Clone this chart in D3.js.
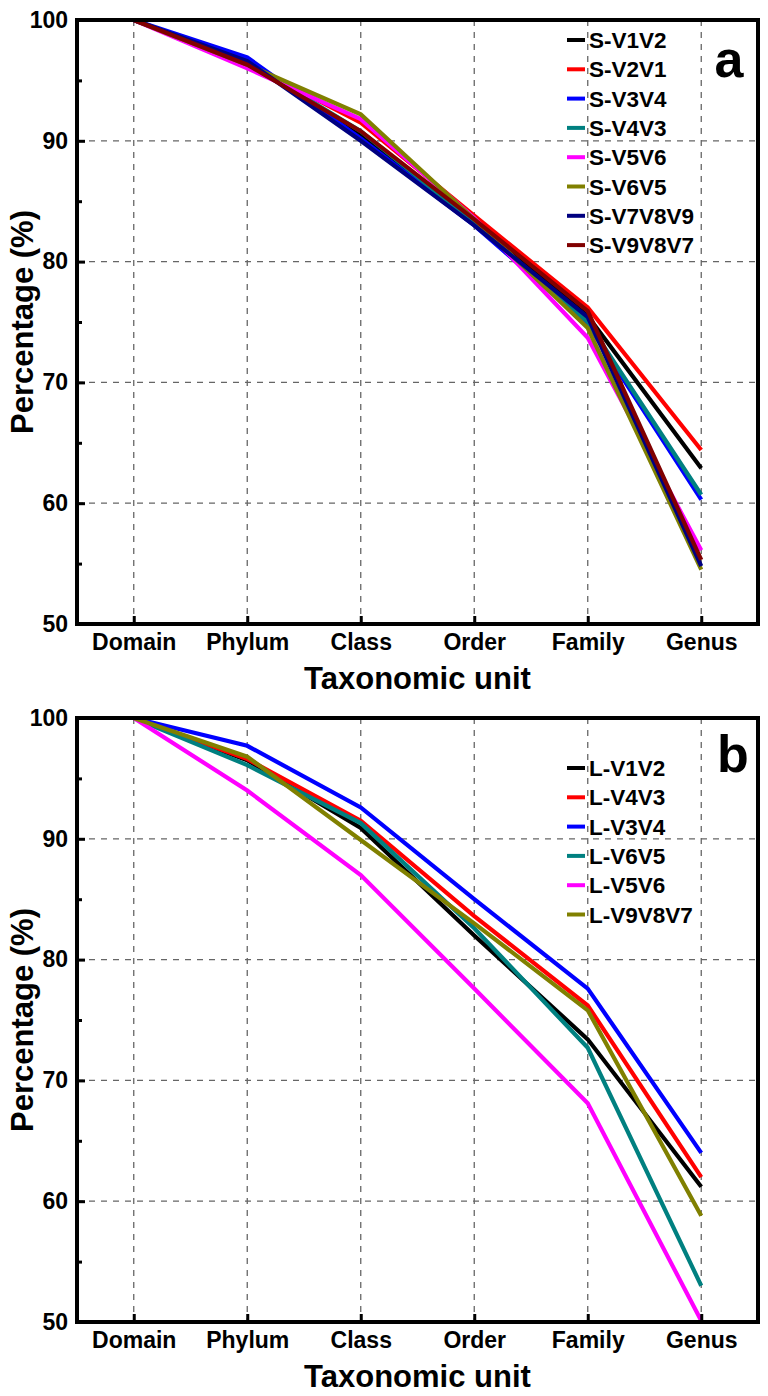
<!DOCTYPE html>
<html><head><meta charset="utf-8">
<script src="https://cdn.jsdelivr.net/npm/d3@7"></script>
<style>body{margin:0;background:#fff}svg{display:block}text{font-family:"Liberation Sans",Arial,sans-serif;font-weight:bold}</style>
</head><body>
<svg id="c" width="768" height="1396"></svg>
<script>
const categories = ["Domain","Phylum","Class","Order","Family","Genus"];
const yTicks = [50,60,70,80,90,100];

const seriesA = ["S-V1V2","S-V2V1","S-V3V4","S-V4V3","S-V5V6","S-V6V5","S-V7V8V9","S-V9V8V7"];
const colorsA = ["#000000","#ff0000","#0000ff","#008080","#ff00ff","#808000","#000080","#800000"];
const sV1V2    = [100, 96.5, 90.5, 83.3, 75.5, 62.9];
const sV2V1    = [100, 96.4, 91.5, 83.8, 76.2, 64.4];
const sV3V4    = [100, 96.9, 90.2, 83.0, 74.8, 60.3];
const sV4V3    = [100, 96.5, 90.8, 83.2, 75.0, 60.7];
const sV5V6    = [100, 96.0, 91.8, 83.6, 73.7, 56.1];
const sV6V5    = [100, 96.3, 92.2, 83.5, 74.5, 54.5];
const sV7V8V9  = [100, 96.6, 90.0, 83.0, 75.4, 54.8];
const sV9V8V7  = [100, 96.3, 90.8, 83.5, 75.9, 55.3];
const valuesA = [sV1V2, sV2V1, sV3V4, sV4V3, sV5V6, sV6V5, sV7V8V9, sV9V8V7];

const seriesB = ["L-V1V2","L-V4V3","L-V3V4","L-V6V5","L-V5V6","L-V9V8V7"];
const colorsB = ["#000000","#ff0000","#0000ff","#008080","#ff00ff","#808000"];
const lV1V2   = [100, 96.5, 90.9, 82.0, 73.4, 61.2];
const lV4V3   = [100, 96.6, 91.5, 83.6, 76.2, 62.0];
const lV3V4   = [100, 97.7, 92.6, 85.0, 77.6, 64.0];
const lV6V5   = [100, 96.1, 91.3, 82.6, 72.7, 53.0];
const lV5V6   = [100, 94.0, 87.0, 77.6, 68.1, 50.1];
const lV9V8V7 = [100, 96.8, 89.9, 83.0, 75.8, 58.8];
const valuesB = [lV1V2, lV4V3, lV3V4, lV6V5, lV5V6, lV9V8V7];

const svg = d3.select("#c");

function panel(top, bottom, names, colors, values, letter, legTop, letterBase, letterX){
  const L = 77, R = 758;
  const x = d3.scalePoint().domain(categories).range([L, R]).padding(0.5);
  const y = d3.scaleLinear().domain([50,100]).range([bottom, top]);
  const g = svg.append("g");
  // grid
  g.selectAll(".vg").data(categories).join("line")
    .attr("x1", d=>x(d)).attr("x2", d=>x(d)).attr("y1", top).attr("y2", bottom)
    .attr("stroke","#666").attr("stroke-width",1.3).attr("stroke-dasharray","6,6");
  g.selectAll(".hg").data(yTicks.filter(v=>v>50&&v<100)).join("line")
    .attr("x1", L).attr("x2", R).attr("y1", d=>y(d)).attr("y2", d=>y(d))
    .attr("stroke","#666").attr("stroke-width",1.3).attr("stroke-dasharray","6,6");
  // lines
  const line = d3.line().x((d,i)=>x(categories[i])).y(d=>y(d));
  values.forEach((v,i)=>{
    g.append("path").attr("d", line(v)).attr("fill","none")
      .attr("stroke", colors[i]).attr("stroke-width",4.2).attr("stroke-linejoin","miter");
  });
  // axes
  const yAxis = d3.axisLeft(y).tickValues(yTicks).tickSize(-8).tickPadding(9).tickFormat(d3.format("d"));
  const ya = g.append("g").attr("transform",`translate(${L},0)`).call(yAxis);
  ya.select(".domain").remove();
  ya.selectAll("line").attr("stroke","#000").attr("stroke-width",3);
  ya.selectAll("text").attr("font-size",23).attr("fill","#000");
  const yMinor = d3.axisLeft(y).tickValues([55,65,75,85,95]).tickSize(-5).tickFormat("");
  const ym = g.append("g").attr("transform",`translate(${L},0)`).call(yMinor);
  ym.select(".domain").remove();
  ym.selectAll("line").attr("stroke","#000").attr("stroke-width",3);
  const xAxis = d3.axisBottom(x).tickSize(-8).tickPadding(10);
  const xa = g.append("g").attr("transform",`translate(0,${bottom})`).call(xAxis);
  xa.select(".domain").remove();
  xa.selectAll("line").attr("stroke","#000").attr("stroke-width",3);
  xa.selectAll("text").attr("font-size",23).attr("fill","#000");
  // frame
  g.append("rect").attr("x",L).attr("y",top).attr("width",R-L).attr("height",bottom-top)
    .attr("fill","none").attr("stroke","#000").attr("stroke-width",4);
  // titles
  g.append("text").attr("x",(L+R)/2).attr("y",bottom+65).attr("text-anchor","middle")
    .attr("font-size",31).text("Taxonomic unit");
  g.append("text").attr("transform",`translate(33,${(top+bottom)/2}) rotate(-90)`)
    .attr("text-anchor","middle").attr("font-size",31).text("Percentage (%)");
  // legend
  names.forEach((n,i)=>{
    const yy = legTop + i*29.3;
    g.append("line").attr("x1",567).attr("x2",585).attr("y1",yy).attr("y2",yy)
      .attr("stroke",colors[i]).attr("stroke-width",4);
    g.append("text").attr("x",589).attr("y",yy).attr("dy","0.36em").attr("font-size",22.5).text(n);
  });
  g.append("text").attr("x",letterX).attr("y",letterBase).attr("text-anchor","middle")
    .attr("font-size",52).text(letter);
}

panel(20, 624, seriesA, colorsA, valuesA, "a", 40, 77, 729);
panel(718, 1322, seriesB, colorsB, valuesB, "b", 768, 772, 733);
</script>
</body></html>
